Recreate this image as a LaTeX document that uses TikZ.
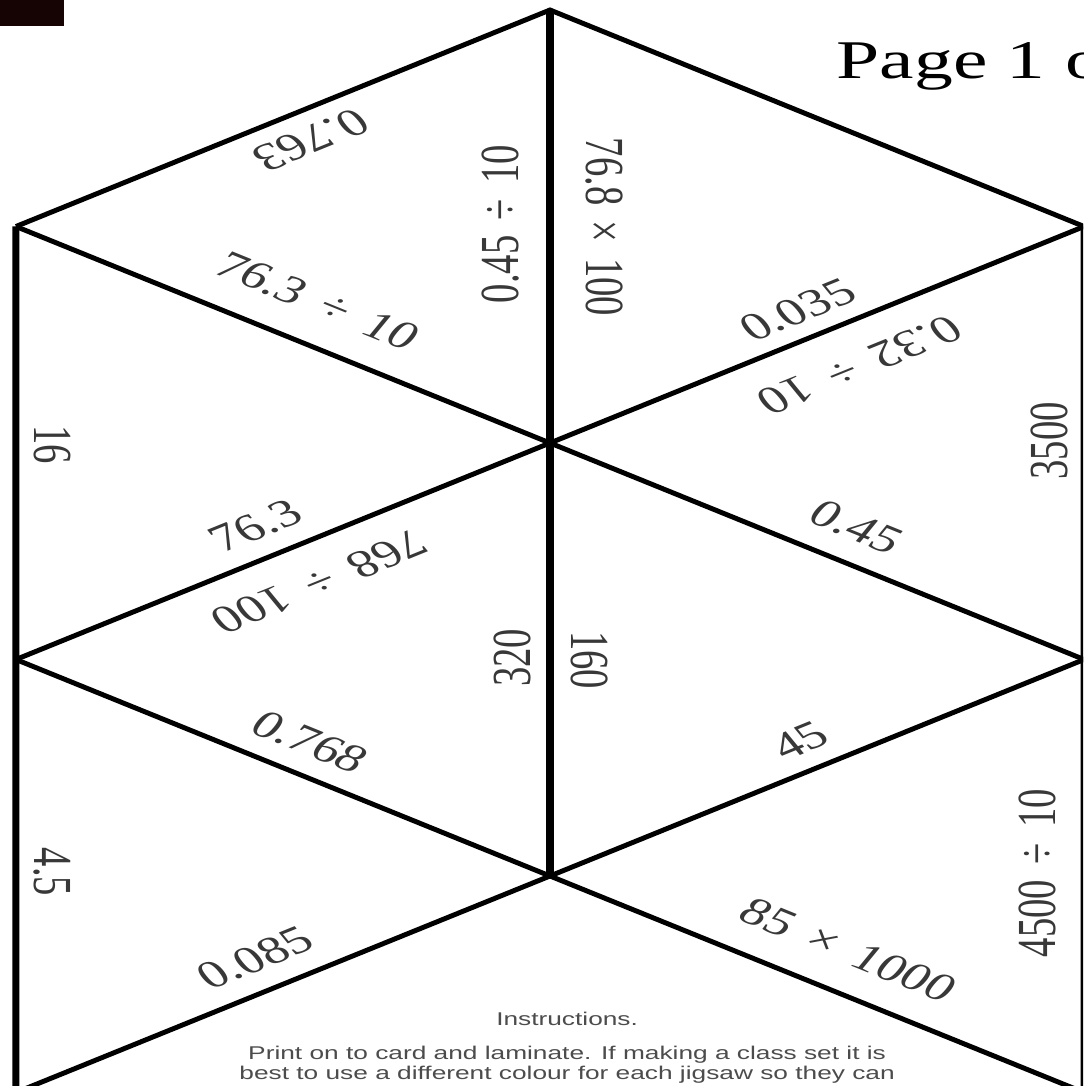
\documentclass[tikz,border=0pt]{standalone}
\usepackage{fontspec}
\setmainfont{Liberation Serif}
\setsansfont{Liberation Sans}
\usepackage{tikz}
\usetikzlibrary{positioning}

\definecolor{tabred}{RGB}{22,4,4}
\newcommand{\cluefont}{\fontsize{22}{26}\selectfont\spaceskip=0.4em\relax}

\tikzset{
    edge/.style={line width=2.8pt},
    spine/.style={line width=4pt},
    clue/.style={font=\cluefont, text=black!78, inner sep=0pt},
    note/.style={font=\sffamily\fontsize{10.5}{11.4}\selectfont, text=black!70, inner sep=0pt, align=center},
}

\begin{document}
\begin{tikzpicture}
    \fill[white] (-11,-12.86) rectangle (10.66,8.86);
    \useasboundingbox (-11,-12.86) rectangle (10.66,8.86);
    \clip (-11,-12.86) rectangle (10.66,8.86);
    \fill[tabred] (-11,8.86) rectangle (-9.72,8.34);

    \begin{scope}[xscale=1.424, transform shape]
    % corners of the hexagon
    \coordinate (top) at (90:8.66);
    \coordinate (ul) at (150:8.66);
    \coordinate (ur) at (30:8.66);
    \coordinate (cu) at (0,0);
    \coordinate (ml) at (210:8.66);
    \coordinate (mr) at (-30:8.66);
    \coordinate (cl) at (-90:8.66);
    \coordinate (bl) at (-7.5,-12.99);
    \coordinate (br) at (7.5,-12.99);

    \draw[edge] (ul) -- (top) -- (ur);
    \draw[edge] (ul) -- (cu) -- (ur);
    \draw[edge] (ml) -- (cu) -- (mr);
    \draw[edge] (ml) -- (cl) -- (mr);
    \draw[edge] (bl) -- (cl) -- (br);
    \draw[spine] (top) -- (cl);
    \draw[spine] (ul) -- (bl);
    \draw[spine] (ur) -- (br);

    % upper left
    \node[clue, rotate=210] (n0763) at (-3.36,6.06) {0.763};
    \node[clue, rotate=90] (n045d) at (-0.69,4.38) {0.45 ÷ 10};
    \node[clue, rotate=-30] (n763d) at (-3.26,2.84) {76.3 ÷ 10};
    % upper right
    \node[clue, rotate=-90] (n768m) at (0.76,4.32) {76.8 × 100};
    \node[clue, rotate=30] (n0035) at (3.48,2.66) {0.035};
    \node[clue, rotate=210] (n032d) at (4.35,1.56) {0.32 ÷ 10};
    \node[clue, rotate=90] (n3500) at (7.01,0.04) {3500};
    \node[clue, rotate=-30] (n045) at (4.30,-1.68) {0.45};
    % middle left
    \node[clue, rotate=-90] (n16) at (-6.99,-0.04) {16};
    \node[clue, rotate=30] (n763) at (-4.14,-1.66) {76.3};
    \node[clue, rotate=210] (n768d) at (-3.24,-2.78) {768 ÷ 100};
    \node[clue, rotate=90] (n320) at (-0.53,-4.30) {320};
    \node[clue, rotate=-30] (n0768) at (-3.37,-5.98) {0.768};
    % middle right
    \node[clue, rotate=-90] (n160) at (0.55,-4.34) {160};
    \node[clue, rotate=30] (n45) at (3.51,-5.96) {45};
    % bottom
    \node[clue, rotate=-90] (n45b) at (-6.99,-8.58) {4.5};
    \node[clue, rotate=30] (n0085) at (-4.14,-10.30) {0.085};
    \node[clue, rotate=-30] (n85m) at (4.19,-10.14) {85 × 1000};
    \node[clue, rotate=90] (n4500d) at (6.84,-8.60) {4500 ÷ 10};

    \node[note, anchor=base] (instr) at (0.24,-11.64) {Instructions.};
    \node[note, below=4.1mm of instr] (howto) {Print on to card and laminate. If making a class set it is\\
        best to use a different colour for each jigsaw so they can};

    \node[font=\fontsize{31}{36}\selectfont, anchor=base west, inner sep=0pt] (pageno) at (4.02,7.28) {Page 1 o};
    \end{scope}
\end{tikzpicture}
\end{document}
